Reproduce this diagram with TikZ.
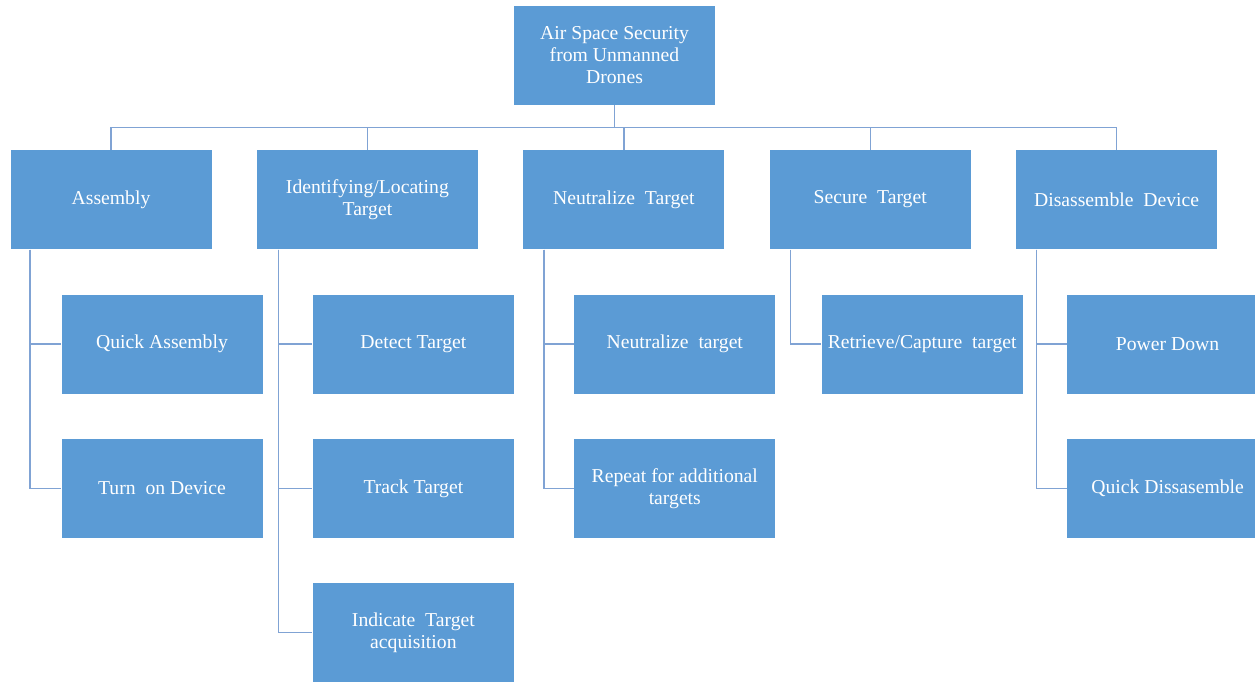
\documentclass[tikz,border=0pt]{standalone}
\usepackage{fontspec}
\setmainfont{Liberation Serif}
\usepackage{tikz}
\usetikzlibrary{positioning,calc}
\usepackage{xcolor}
\definecolor{boxblue}{RGB}{91,155,213}
\definecolor{linkblue}{RGB}{128,163,212}

\begin{document}
\begin{tikzpicture}[
    node distance=1.11cm,
    box/.style={
        rectangle, draw=white, line width=0.5pt, fill=boxblue,
        minimum width=5.05cm, minimum height=2.5cm,
        text=white, font=\fontsize{14}{15.6}\selectfont, align=center,
        inner sep=1pt, outer sep=0pt
    },
    widebox/.style={box, minimum width=5.55cm},
    link/.style={draw=linkblue, line width=1pt}
]
\useasboundingbox (0,0) rectangle (31.375,-17.05);

% Root node
\node[box] (root) at (15.3625,-1.375) {Air Space Security\\from Unmanned\\Drones};

% First level - main tasks
\node[box] (asm) at (2.775,-4.9875) {Assembly};
\node[widebox, right=of asm] (ident) {Identifying/Locating\\Target};
\node[box, right=of ident] (neut) {Neutralize\ \ Target};
\node[box, right=of neut] (secure) {Secure\ \ Target};
\node[box, right=of secure] (disasm) {Disassemble\ \ Device};

% Second level - sub tasks
\node[box, below=of asm, xshift=1.275cm] (qasm) {Quick Assembly};
\node[box, below=of qasm] (devon) {Turn\ \ on Device};

\node[box, below=of ident, xshift=1.15cm] (detect) {Detect Target};
\node[box, below=of detect] (track) {Track Target};
\node[box, below=of track] (acquire) {Indicate\ \ Target\\acquisition};

\node[box, below=of neut, xshift=1.275cm] (neutsub) {Neutralize\ \ target};
\node[box, below=of neutsub] (repeat) {Repeat for additional\\targets};

\node[box, below=of secure, xshift=1.3cm] (capture) {Retrieve/Capture\ \ target};

\node[box, below=of disasm, xshift=1.275cm] (power) {Power Down};
\node[box, below=of power] (qdis) {Quick Dissasemble};

% Root to first level
\coordinate (bus) at ($(root.south)+(0,-0.5625cm)$);
\draw[link] (root.south) -- (bus);
\foreach \n in {asm,ident,neut,secure,disasm}
    \draw[link] (bus) -| (\n.north);

% First level to sub tasks
\coordinate (asmL) at ($(asm.south west)+(0.5cm,0)$);
\coordinate (identL) at ($(ident.south west)+(0.55cm,0)$);
\coordinate (neutL) at ($(neut.south west)+(0.525cm,0)$);
\coordinate (secureL) at ($(secure.south west)+(0.525cm,0)$);
\coordinate (disasmL) at ($(disasm.south west)+(0.525cm,0)$);

\draw[link] (asmL) |- (qasm.west);
\draw[link] (asmL) |- (devon.west);
\draw[link] (identL) |- (detect.west);
\draw[link] (identL) |- (track.west);
\draw[link] (identL) |- (acquire.west);
\draw[link] (neutL) |- (neutsub.west);
\draw[link] (neutL) |- (repeat.west);
\draw[link] (secureL) |- (capture.west);
\draw[link] (disasmL) |- (power.west);
\draw[link] (disasmL) |- (qdis.west);

\end{tikzpicture}
\end{document}
